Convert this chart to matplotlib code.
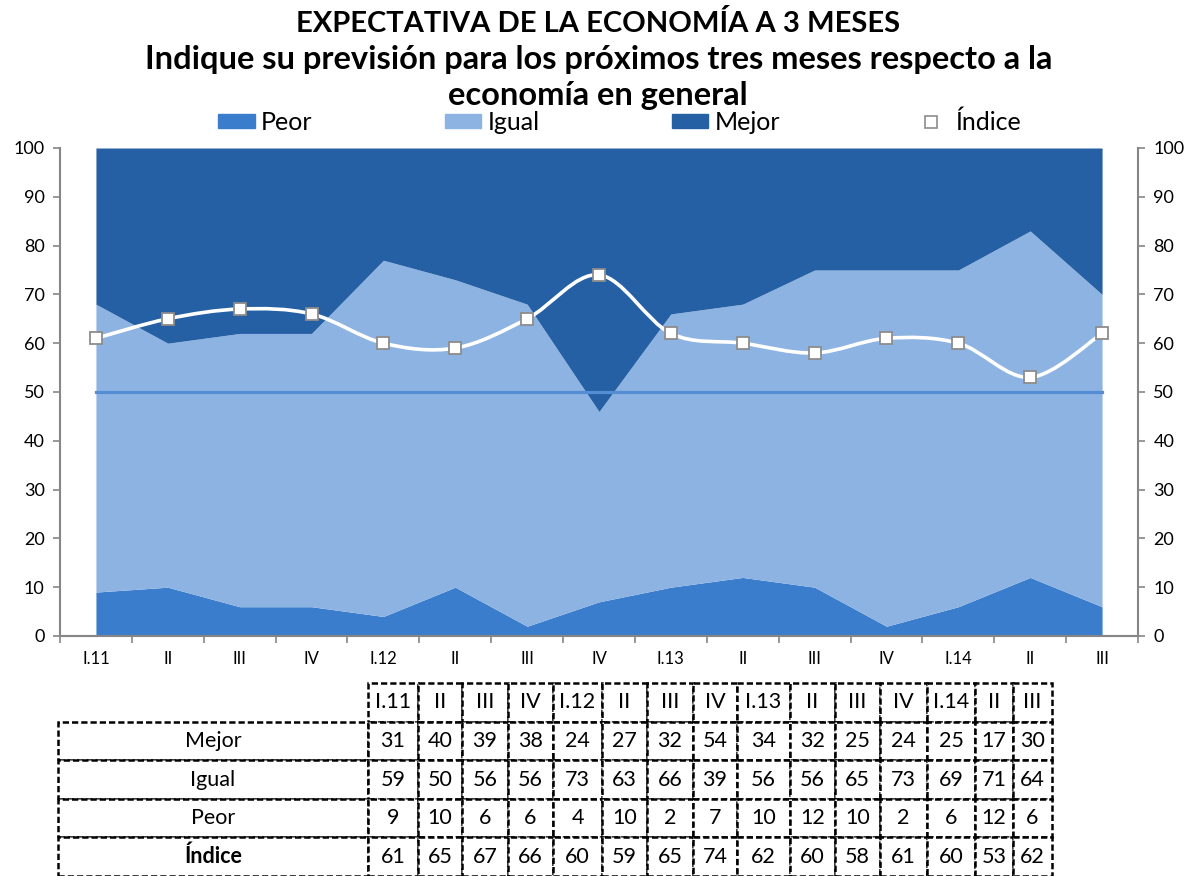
import numpy as np
import matplotlib.pyplot as plt
from matplotlib.path import Path
from matplotlib.patches import PathPatch, Patch
from matplotlib.lines import Line2D

plt.rcParams['font.family'] = ['Lato', 'DejaVu Sans']

# datos (porcentajes por trimestre)
periodos = ['I.11', 'II', 'III', 'IV', 'I.12', 'II', 'III', 'IV', 'I.13', 'II', 'III', 'IV', 'I.14', 'II', 'III']
mejor = [31, 40, 39, 38, 24, 27, 32, 54, 34, 32, 25, 24, 25, 17, 30]
igual = [59, 50, 56, 56, 73, 63, 66, 39, 56, 56, 65, 73, 69, 71, 64]
peor = [9, 10, 6, 6, 4, 10, 2, 7, 10, 12, 10, 2, 6, 12, 6]
indice = [61, 65, 67, 66, 60, 59, 65, 74, 62, 60, 58, 61, 60, 53, 62]
referencia = 50

c_peor = '#3A7DCC'
c_igual = '#8DB3E2'
c_mejor = '#2660A4'
c_ref = '#548DD4'
c_eje = '#868686'

W, H = 1187, 876
fig = plt.figure(figsize=(W / 100, H / 100), dpi=100)

# titulo
fig.text(0.504, 1 - 23 / H, 'EXPECTATIVA DE LA ECONOMÍA A 3 MESES', ha='center', va='center',
         fontsize=21, fontweight='bold')
fig.text(0.504, 1 - 60 / H, 'Indique su previsión para los próximos tres meses respecto a la',
         ha='center', va='center', fontsize=23.5, fontweight='bold')
fig.text(0.504, 1 - 95 / H, 'economía en general', ha='center', va='center',
         fontsize=23.5, fontweight='bold')

ax = fig.add_axes([60 / W, 1 - 636 / H, (1138 - 60) / W, (636 - 148) / H])
x = np.arange(len(periodos))
peor_a = np.array(peor, dtype=float)
igual_a = np.array(igual, dtype=float)
tope = peor_a + igual_a

ax.fill_between(x, 0, peor_a, color=c_peor, lw=0, zorder=1)
ax.fill_between(x, peor_a, tope, color=c_igual, lw=0, zorder=1)
ax.fill_between(x, tope, 100, color=c_mejor, lw=0, zorder=1)
ax.plot(x, [referencia] * len(x), color=c_ref, lw=2.3, zorder=2)

# linea suavizada del indice (bezier tipo catmull-rom)
pts = np.column_stack([x, indice]).astype(float)
ext = np.vstack([pts[0], pts, pts[-1]])
verts = [pts[0]]
codes = [Path.MOVETO]
for i in range(len(pts) - 1):
    p0, p1, p2, p3 = ext[i], ext[i + 1], ext[i + 2], ext[i + 3]
    verts += [p1 + (p2 - p0) / 6, p2 - (p3 - p1) / 6, p2]
    codes += [Path.CURVE4] * 3
ax.add_patch(PathPatch(Path(verts, codes), fill=False, edgecolor='white', lw=2.6, zorder=3))
ax.plot(x, indice, ls='none', marker='s', ms=8.5, mfc='white', mec='#8C8C8C', mew=1.3, zorder=4)

ax.set_xlim(-0.5, len(periodos) - 0.5)
ax.set_ylim(0, 100)
ax.set_yticks(range(0, 101, 10))
ax.set_xticks(np.arange(len(periodos) + 1) - 0.5)
ax.set_xticklabels([])
ax.set_xticks(x, minor=True)
ax.set_xticklabels(periodos, minor=True, fontsize=12)
ax.tick_params(axis='x', which='minor', length=0, pad=11)
ax.tick_params(axis='x', which='major', length=5, width=1.2, color=c_eje)
ax.tick_params(axis='y', length=5, width=1.2, color=c_eje, labelsize=13, pad=6)
for s in ['top', 'right']:
    ax.spines[s].set_visible(False)
for s in ['left', 'bottom']:
    ax.spines[s].set_color(c_eje)
    ax.spines[s].set_linewidth(1.5)

ax2 = ax.twinx()
ax2.set_ylim(0, 100)
ax2.set_yticks(range(0, 101, 10))
ax2.tick_params(axis='y', length=5, width=1.2, color=c_eje, labelsize=13, pad=6)
for s in ['top', 'left', 'bottom']:
    ax2.spines[s].set_visible(False)
ax2.spines['right'].set_color(c_eje)
ax2.spines['right'].set_linewidth(1.5)

# leyenda
handles = [Patch(color=c_peor), Patch(color=c_igual), Patch(color=c_mejor),
           Line2D([], [], ls='none', marker='s', ms=8, mfc='white', mec='#8C8C8C', mew=1.2)]
fig.legend(handles, ['Peor', 'Igual', 'Mejor', 'Índice'], ncol=4, loc='center',
           bbox_to_anchor=(0.522, 1 - 122 / H), frameon=False, fontsize=18,
           handlelength=1.45, handleheight=0.52, handletextpad=0.25, columnspacing=5.3)

# tabla
bordes = [368, 418, 462, 508, 553, 602, 647, 693, 737, 790, 835, 880, 927, 975, 1013, 1052]
x0 = 58
tax = fig.add_axes([x0 / W, 0, (bordes[-1] - x0) / W, 193 / H])
tax.axis('off')
filas = [[''] + periodos,
         ['Mejor'] + [str(v) for v in mejor],
         ['Igual'] + [str(v) for v in igual],
         ['Peor'] + [str(v) for v in peor],
         ['Índice'] + [str(v) for v in indice]]
anchos = [bordes[0] - x0] + list(np.diff(bordes))
anchos = [a / (bordes[-1] - x0) for a in anchos]
tabla = tax.table(cellText=filas, cellLoc='center', colWidths=anchos, bbox=[0, 0, 1, 1])
tabla.auto_set_font_size(False)
for (r, c), cel in tabla.get_celld().items():
    cel.set_linestyle((0, (2.5, 1.2)))
    cel.set_linewidth(1.8)
    cel.set_edgecolor('black')
    cel.get_text().set_fontsize(15.5)
    if r == 0 and c == 0:
        cel.visible_edges = ''
    if r == 4 and c == 0:
        cel.get_text().set_fontweight('bold')

fig.savefig('out.png', dpi=100)
